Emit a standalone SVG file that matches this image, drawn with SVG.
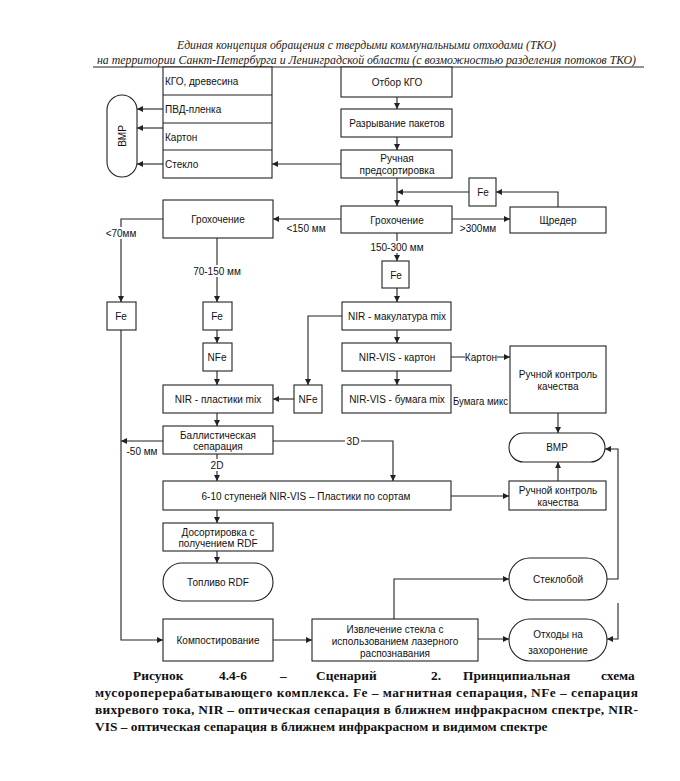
<svg xmlns="http://www.w3.org/2000/svg" width="680" height="781" viewBox="0 0 680 781">
<style>
.n{fill:#fff;stroke:#222;stroke-width:1.1}
.t{font-family:"Liberation Sans",Arial,sans-serif;font-size:10px;fill:#111;text-anchor:middle;dominant-baseline:central}
.tl{font-family:"Liberation Sans",Arial,sans-serif;font-size:10px;fill:#111;dominant-baseline:central}
.c{fill:none;stroke:#222;stroke-width:1.1;marker-end:url(#a)}
.lb{fill:#fff}
.h{font-family:"Liberation Serif","Times New Roman",serif;font-style:italic;font-size:12px;fill:#222;text-anchor:start}
.cap{font-family:"Liberation Serif","Times New Roman",serif;font-weight:bold;font-size:13.4px;fill:#111}
</style>
<defs>
<marker id="a" markerUnits="userSpaceOnUse" markerWidth="7" markerHeight="6" refX="6" refY="3" orient="auto">
<path d="M0,0 L6,3 L0,6 z" fill="#222"/>
</marker>
</defs>
<rect width="680" height="781" fill="#fff"/>
<g id="header">
<text class="h" x="177" y="49" textLength="379" lengthAdjust="spacingAndGlyphs">Единая концепция обращения с твердыми коммунальными отходами (ТКО)</text>
<text class="h" x="97" y="64" textLength="539" lengthAdjust="spacingAndGlyphs">на территории Санкт-Петербурга и Ленинградской области (с возможностью разделения потоков ТКО)</text>
<line x1="93" y1="67" x2="644" y2="67" stroke="#222" stroke-width="1"/>
</g>
<g id="connectors">
<path class="c" d="M397,97 V109"/>
<path class="c" d="M397,137 V150"/>
<path class="c" d="M397,178 V206"/>
<path class="c" d="M469,192 H397"/>
<path class="c" d="M558,208 V192 H496"/>
<path class="c" d="M452,219 H510"/>
<path class="c" d="M341,164 H272"/>
<path class="c" d="M163,109 H137"/>
<path class="c" d="M163,128 H137"/>
<path class="c" d="M163,164 H137"/>
<path class="c" d="M341,219 H273"/>
<path class="c" d="M163,219 H121 V302"/>
<path class="c" d="M217,238 V302"/>
<path class="c" d="M217,330 V343"/>
<path class="c" d="M217,371 V385"/>
<path class="c" d="M397,233 V261"/>
<path class="c" d="M397,288 V302"/>
<path class="c" d="M397,330 V343"/>
<path class="c" d="M397,371 V385"/>
<path class="c" d="M342,316 H308 V385"/>
<path class="c" d="M294,399 H273"/>
<path class="c" d="M451,357 H510"/>
<path class="c" d="M558,413 V433"/>
<path class="c" d="M217,413 V426"/>
<path class="c" d="M163,441 H121"/>
<path class="c" d="M273,441 H393 V481"/>
<path class="c" d="M217,454 V481"/>
<path class="c" d="M451,496 H509"/>
<path class="c" d="M558,481 V462"/>
<path class="c" d="M217,510 V523"/>
<path class="c" d="M217,551 V563"/>
<path class="c" d="M121,330 V640 H163"/>
<path class="c" d="M273,640 H312"/>
<path class="c" d="M394,619 V579 H509"/>
<path class="c" d="M466,639 H509"/>
<path class="c" d="M607,579 H618 V449 H605"/>
<path class="c" d="M618,603 V639 H607"/>
<rect class="lb" x="104" y="227" width="34" height="12"/>
<text class="t" x="121" y="233">&lt;70мм</text>
<text class="t" x="306" y="228">&lt;150 мм</text>
<rect class="lb" x="193" y="265" width="48" height="12"/>
<text class="t" x="217" y="271">70-150 мм</text>
<text class="t" x="478" y="228">&gt;300мм</text>
<rect class="lb" x="370" y="241" width="54" height="12"/>
<text class="t" x="397" y="247">150-300 мм</text>
<rect class="lb" x="465" y="351" width="32" height="12"/>
<text class="t" x="481" y="357">Картон</text>
<text class="tl" x="453" y="401" textLength="55" lengthAdjust="spacingAndGlyphs">Бумага микс</text>
<text class="t" x="142" y="451">-50 мм</text>
<rect class="lb" x="345" y="435" width="16" height="12"/>
<text class="t" x="353" y="441">3D</text>
<rect class="lb" x="209" y="459" width="16" height="12"/>
<text class="t" x="217" y="465">2D</text>
</g>
<g id="table">
<rect class="n" x="163" y="67" width="109" height="111"/>
<line x1="163" y1="95" x2="272" y2="95" stroke="#222" stroke-width="1.1"/>
<line x1="163" y1="123" x2="272" y2="123" stroke="#222" stroke-width="1.1"/>
<line x1="163" y1="150" x2="272" y2="150" stroke="#222" stroke-width="1.1"/>
<text class="tl" x="165" y="81">КГО, древесина</text>
<text class="tl" x="165" y="109">ПВД-пленка</text>
<text class="tl" x="165" y="137">Картон</text>
<text class="tl" x="165" y="164">Стекло</text>
</g>
<g id="vmp-left">
<rect class="n" x="107" y="95" width="30" height="82" rx="15" ry="15"/>
<text class="t" transform="translate(122,136) rotate(-90)" x="0" y="0">ВМР</text>
</g>
<g id="otbor"><rect class="n" x="341" y="67" width="111" height="30"/><text class="t" x="397" y="82">Отбор  КГО</text></g>
<g id="razryv"><rect class="n" x="341" y="109" width="111" height="28"/><text class="t" x="397" y="123">Разрывание пакетов</text></g>
<g id="ruchnaya"><rect class="n" x="341" y="150" width="111" height="28"/><text class="t" x="397" y="158">Ручная</text><text class="t" x="397" y="170">предсортировка</text></g>
<g id="fe-top"><rect class="n" x="469" y="178" width="27" height="28"/><text class="t" x="483" y="192">Fe</text></g>
<g id="groh-c"><rect class="n" x="341" y="206" width="111" height="27"/><text class="t" x="397" y="220">Грохочение</text></g>
<g id="shreder"><rect class="n" x="510" y="207" width="96" height="26"/><text class="t" x="558" y="220">Щредер</text></g>
<g id="groh-l"><rect class="n" x="163" y="200" width="110" height="38"/><text class="t" x="218" y="219">Грохочение</text></g>
<g id="fe-l"><rect class="n" x="107" y="302" width="29" height="28"/><text class="t" x="121" y="316">Fe</text></g>
<g id="fe-m"><rect class="n" x="203" y="302" width="29" height="28"/><text class="t" x="217" y="316">Fe</text></g>
<g id="nfe-m"><rect class="n" x="203" y="343" width="29" height="28"/><text class="t" x="217" y="357">NFe</text></g>
<g id="plast"><rect class="n" x="163" y="385" width="110" height="28"/><text class="t" x="218" y="399">NIR - пластики mix</text></g>
<g id="nfe-r"><rect class="n" x="294" y="385" width="28" height="28"/><text class="t" x="308" y="399">NFe</text></g>
<g id="fe-c"><rect class="n" x="382" y="261" width="27" height="27"/><text class="t" x="396" y="275">Fe</text></g>
<g id="makul"><rect class="n" x="342" y="302" width="109" height="28"/><text class="t" x="397" y="316">NIR - макулатура mix</text></g>
<g id="karton"><rect class="n" x="342" y="343" width="109" height="28"/><text class="t" x="397" y="357">NIR-VIS - картон</text></g>
<g id="bumaga"><rect class="n" x="342" y="385" width="109" height="28"/><text class="t" x="397" y="399">NIR-VIS - бумага mix</text></g>
<g id="rk-top"><rect class="n" x="510" y="346" width="96" height="67"/><text class="t" x="558" y="374">Ручной контроль</text><text class="t" x="558" y="386">качества</text></g>
<g id="vmp-r"><rect class="n" x="509" y="433" width="96" height="29" rx="14.5" ry="14.5"/><text class="t" x="557" y="447">ВМР</text></g>
<g id="ballist"><rect class="n" x="163" y="426" width="110" height="28"/><text class="t" x="218" y="435">Баллистическая</text><text class="t" x="218" y="446">сепарация</text></g>
<g id="stupeni"><rect class="n" x="163" y="481" width="288" height="29"/><text class="t" x="306" y="496">6-10 ступеней NIR-VIS – Пластики по сортам</text></g>
<g id="rk-bot"><rect class="n" x="509" y="481" width="97" height="29"/><text class="t" x="558" y="490">Ручной контроль</text><text class="t" x="558" y="502">качества</text></g>
<g id="dosort"><rect class="n" x="163" y="523" width="110" height="28"/><text class="t" x="218" y="532">Досортировка с</text><text class="t" x="218" y="543">получением RDF</text></g>
<g id="toplivo"><rect class="n" x="163" y="563" width="110" height="38" rx="19" ry="19"/><text class="t" x="218" y="582">Топливо RDF</text></g>
<g id="steklo"><rect class="n" x="509" y="558" width="98" height="42" rx="21" ry="21"/><text class="t" x="558" y="579">Стеклобой</text></g>
<g id="kompost"><rect class="n" x="163" y="619" width="110" height="42"/><text class="t" x="218" y="640">Компостирование</text></g>
<g id="izvlech"><rect class="n" x="312" y="619" width="166" height="42"/><text class="t" x="395" y="629">Извлечение стекла с</text><text class="t" x="395" y="641">использованием лазерного</text><text class="t" x="395" y="653">распознавания</text></g>
<g id="othody"><rect class="n" x="509" y="619" width="98" height="42" rx="21" ry="21"/><text class="t" x="558" y="634">Отходы на</text><text class="t" x="558" y="650">захоронение</text></g>
<g id="caption">
<text class="cap" y="680"><tspan x="133">Рисунок</tspan><tspan x="219">4.4-6</tspan><tspan x="280">–</tspan><tspan x="316">Сценарий</tspan><tspan x="431">2.</tspan><tspan x="463">Принципиальная</tspan><tspan x="601">схема</tspan></text>
<text class="cap" x="95" y="697" textLength="543" lengthAdjust="spacing">мусороперерабатывающего комплекса. Fe – магнитная сепарация, NFe – сепарация</text>
<text class="cap" x="95" y="714" textLength="543" lengthAdjust="spacing">вихревого тока, NIR – оптическая сепарация в ближнем инфракрасном спектре, NIR-</text>
<text class="cap" x="95" y="731">VIS – оптическая сепарация в ближнем инфракрасном и видимом спектре</text>
</g>
</svg>
